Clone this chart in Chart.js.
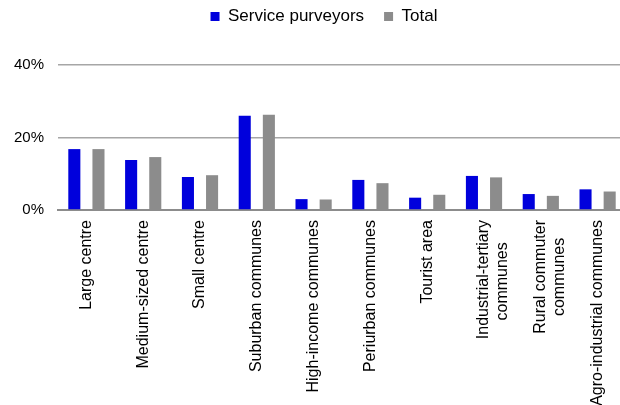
<!DOCTYPE html>
<html>
<head>
<meta charset="utf-8">
<script src="https://cdn.jsdelivr.net/npm/chart.js@4/dist/chart.umd.min.js"></script>
<style>
  html, body { margin: 0; padding: 0; background: #ffffff; overflow: hidden; }
  #wrap { width: 626px; height: 405px; }
</style>
</head>
<body>
<div id="wrap"><canvas id="c" width="626" height="405"></canvas></div>
<script>
const categories = [
  "Large centre",
  "Medium-sized centre",
  "Small centre",
  "Suburban communes",
  "High-income communes",
  "Periurban communes",
  "Tourist area",
  ["Industrial-tertiary", "communes     "],
  ["Rural commuter", "communes    "],
  "Agro-industrial communes"
];
const seriesNames = ["Service purveyors", "Total"];
const servicePurveyors = [16.8, 13.8, 9.1, 26.0, 3.0, 8.3, 3.4, 9.4, 4.4, 5.7];
const totalValues = [16.8, 14.6, 9.6, 26.3, 2.9, 7.4, 4.2, 9.0, 3.9, 5.1];
const yTicks = [0, 20, 40];

const FONT = "'Liberation Sans', Arial, sans-serif";

const legendTweak = {
  id: 'legendTweak',
  beforeInit(chart) {
    const lg = chart.legend;
    if (lg) {
      const fit = lg.fit;
      lg.fit = function () { fit.call(this); this.height = 65; };
    }
  },
  afterLayout(chart) {
    const lg = chart.legend;
    if (lg) {
      lg.left += 11; lg.right += 11;
      lg.top -= 12; lg.bottom -= 12;
    }
  }
};

new Chart(document.getElementById('c'), {
  type: 'bar',
  data: {
    labels: categories,
    datasets: [
      { label: seriesNames[0], data: servicePurveyors, backgroundColor: '#0000dc', borderWidth: 0,
        categoryPercentage: 0.85, barPercentage: 0.5 },
      { label: seriesNames[1], data: totalValues, backgroundColor: '#8c8c8c', borderWidth: 0,
        categoryPercentage: 0.85, barPercentage: 0.5 }
    ]
  },
  plugins: [legendTweak],
  options: {
    responsive: false,
    animation: false,
    devicePixelRatio: 1,
    layout: { padding: 0 },
    plugins: {
      legend: {
        position: 'top',
        labels: {
          font: { family: FONT, size: 17 },
          color: '#000000',
          boxWidth: 9,
          boxHeight: 9,
          padding: 20
        }
      },
      tooltip: { enabled: false }
    },
    scales: {
      x: {
        grid: { display: false, drawTicks: false },
        border: { display: true, color: '#8c8c8c', width: 2 },
        ticks: {
          maxRotation: 90, minRotation: 90,
          autoSkip: false,
          padding: 10,
          color: '#000000',
          font: { family: FONT, size: 16, lineHeight: 1.15 }
        },
        afterFit(scale) { scale.height = 195; }
      },
      y: {
        min: 0, max: 40,
        afterBuildTicks(scale) { scale.ticks = yTicks.map(v => ({ value: v })); },
        grid: {
          drawTicks: false,
          color: (ctx) => (ctx.tick && ctx.tick.value === 0) ? '#8c8c8c' : '#a6a6a6',
          lineWidth: 1.5
        },
        border: { display: false },
        ticks: {
          padding: 14,
          color: '#000000',
          font: { family: FONT, size: 15 },
          callback: (v) => v + '%'
        },
        afterFit(scale) { scale.width = 58; }
      }
    }
  }
});
</script>
</body>
</html>
